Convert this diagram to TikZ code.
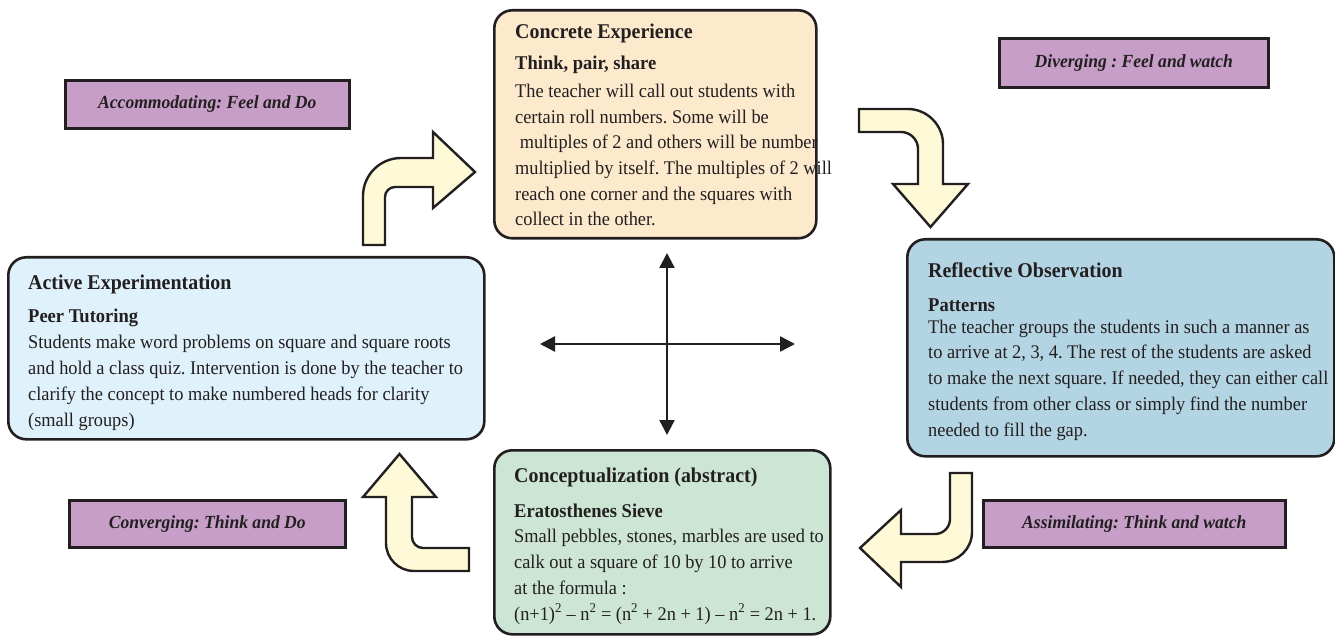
\documentclass[tikz,border=0pt]{standalone}
\usepackage{fontspec}
\setmainfont{Liberation Serif}[FakeStretch=0.95]
\usetikzlibrary{arrows.meta}
\definecolor{inkc}{HTML}{231F20}
\definecolor{cefill}{HTML}{FDEACD}
\definecolor{rofill}{HTML}{B3D4E3}
\definecolor{aefill}{HTML}{DFF1FA}
\definecolor{ccfill}{HTML}{CCE5D4}
\definecolor{modefill}{HTML}{C69EC7}
\definecolor{turnfill}{HTML}{FEF9D7}
\tikzset{
  stagebox/.style={draw=inkc, line width=2.6pt, rounded corners=18pt, anchor=north west, inner sep=0pt},
  modebox/.style={draw=inkc, line width=2.6pt, fill=modefill, anchor=north west, inner sep=0pt,
    font=\bfseries\itshape\fontsize{18.5}{22}\selectfont, text=inkc},
  ttl/.style={anchor=base west, inner sep=0pt, text=inkc, font=\bfseries\fontsize{21}{25}\selectfont},
  sub/.style={anchor=base west, inner sep=0pt, text=inkc, font=\bfseries\fontsize{19.5}{25}\selectfont},
  % multi-line body: the anchor sits on the baseline of the last line
  body/.style={anchor=base west, inner sep=0pt, text=inkc, align=left, font=\fontsize{19.3}{25.7}\selectfont},
  turn/.style={draw=inkc, line width=2.4pt, fill=turnfill, line join=miter},
  axis/.style={draw=inkc, line width=2.4pt, {Triangle[length=15pt,width=15pt]}-{Triangle[length=15pt,width=15pt]}}
}
\frenchspacing
\begin{document}
\begin{tikzpicture}[x=1pt,y=-1pt]
\useasboundingbox (0,0) rectangle (1335,636);

% four stages of the cycle
\node[stagebox, fill=cefill, minimum width=322pt, minimum height=228pt] (ce) at (493,9) {};
\node[stagebox, fill=rofill, minimum width=427pt, minimum height=217pt] (ro) at (906,238) {};
\node[stagebox, fill=aefill, minimum width=476pt, minimum height=182pt] (ae) at (7,256) {};
\node[stagebox, fill=ccfill, minimum width=336pt, minimum height=184pt] (cc) at (493,449) {};

% stage texts
\node[ttl] (ce-t) at (515,39) {Concrete Experience};
\node[sub] (ce-s) at (515,70) {Think, pair, share};
\node[body] (ce-b) at (515,226) {The teacher will call out students with\\certain roll numbers. Some will be\\\ multiples of 2 and others will be number\\multiplied by itself. The multiples of 2 will\\reach one corner and the squares with\\collect in the other.};

\node[ttl] (ro-t) at (928,277) {Reflective Observation};
\node[sub] (ro-s) at (928,311) {Patterns};
\node[body] (ro-b) at (928,436) {The teacher groups the students in such a manner as\\to arrive at 2, 3, 4. The rest of the students are asked\\to make the next square. If needed, they can either call\\students from other class or simply find the number\\needed to fill the gap.};

\node[ttl] (ae-t) at (28,289) {Active Experimentation};
\node[sub] (ae-s) at (28,322) {Peer Tutoring};
\node[body] (ae-b) at (28,426) {Students make word problems on square and square roots\\and hold a class quiz. Intervention is done by the teacher to\\clarify the concept to make numbered heads for clarity\\(small groups)};

\node[ttl] (cc-t) at (514,482) {Conceptualization (abstract)};
\node[sub] (cc-s) at (514,517) {Eratosthenes Sieve};
\node[body] (cc-b) at (514,620) {Small pebbles, stones, marbles are used to\\calk out a square of 10 by 10 to arrive\\at the formula :\\(n+1)\textsuperscript{2} – n\textsuperscript{2} = (n\textsuperscript{2} + 2n + 1) – n\textsuperscript{2} = 2n + 1.};

% learning styles
\node[modebox, minimum width=284pt, minimum height=48pt] (acc) at (64,79) {Accommodating: Feel and Do};
\node[modebox, minimum width=269pt, minimum height=49pt] (div) at (998,37) {Diverging : Feel and watch};
\node[modebox, minimum width=276pt, minimum height=47pt] (con) at (68,499) {Converging: Think and Do};
\node[modebox, minimum width=302pt, minimum height=47pt] (ass) at (982,499) {Assimilating: Think and watch};

% bent arrows running round the cycle
\draw[turn] (363,245) -- (363,196) .. controls (363,175) and (380,158) .. (401,158) -- (433,158) -- (433,132)
  -- (475,172) -- (433,208) -- (433,187) -- (395,187) .. controls (389.5,187) and (385,191.5) .. (385,197) -- (385,245) -- cycle;
\draw[turn] (859,109) -- (908,109) .. controls (927,109) and (943,125) .. (943,144) -- (943,184) -- (968,184)
  -- (930.5,227) -- (893,184) -- (918,184) -- (918,149) .. controls (918,139.6) and (910.4,132) .. (901,132) -- (859,132) -- cycle;
\draw[turn] (950,473) -- (972,473) -- (972,532) .. controls (972,548.5) and (958.5,562) .. (942,562) -- (901,562)
  -- (901,587) -- (860,548) -- (901,510) -- (901,534) -- (935,534) .. controls (943.3,534) and (950,527.3) .. (950,519) -- cycle;
\draw[turn] (399.5,454) -- (436,497) -- (412,497) -- (412,537) .. controls (412,543) and (416.9,548) .. (423,548)
  -- (469,548) -- (469,571) -- (414,571) .. controls (398.5,571) and (386,558.5) .. (386,543) -- (386,497) -- (363,497) -- cycle;

% central axes
\coordinate (axN) at (667,253);
\coordinate (axS) at (667,435);
\coordinate (axW) at (540,344);
\coordinate (axE) at (795,344);
\draw[axis] (axW) -- (axE);
\draw[axis] (axN) -- (axS);
\end{tikzpicture}
\end{document}
